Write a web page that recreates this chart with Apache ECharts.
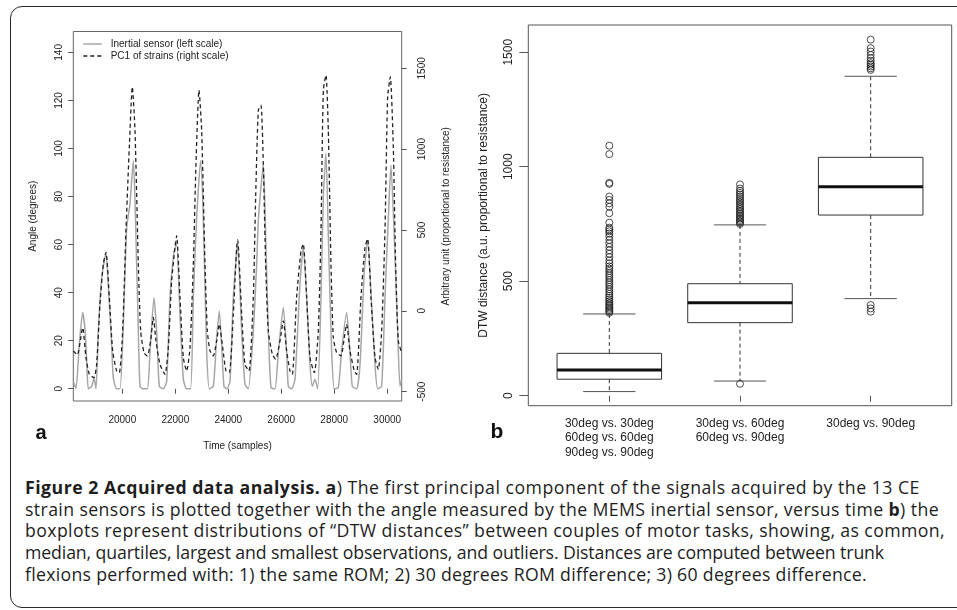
<!DOCTYPE html>
<html>
<head>
<meta charset="utf-8">
<script src="https://cdn.jsdelivr.net/npm/echarts@6/dist/echarts.min.js"></script>
<style>
  html, body { margin: 0; padding: 0; background: #fff; }
  body { width: 957px; height: 610px; position: relative; overflow: hidden; }
  .frame {
    position: absolute; left: 10px; top: 6px; width: 980px; height: 600px;
    border: 1.6px solid #2a2a2a; border-radius: 12px;
  }
  #chart { position: absolute; left: 0; top: 0; width: 957px; height: 470px; }
  .caption {
    position: absolute; left: 25px; top: 477px;
    font-family: "Open Sans", sans-serif; font-size: 17.7px; line-height: 21.7px;
    color: #1e1e1e; white-space: nowrap;
  }
  .caption span { display: inline-block; }
  .caption b { font-weight: 700; }
</style>
</head>
<body>
<div class="frame"></div>
<div id="chart"></div>
<div class="caption">
  <span><b>Figure 2 Acquired data analysis.</b> <b>a</b>) The first principal component of the signals acquired by the 13 CE</span><br>
  <span>strain sensors is plotted together with the angle measured by the MEMS inertial sensor, versus time <b>b</b>) the</span><br>
  <span>boxplots represent distributions of “DTW distances” between couples of motor tasks, showing, as common,</span><br>
  <span>median, quartiles, largest and smallest observations, and outliers. Distances are computed between trunk</span><br>
  <span>flexions performed with: 1) the same ROM; 2) 30 degrees ROM difference; 3) 60 degrees difference.</span>
</div>
<script>
// panel a: inertial sensor angle (left scale)
const inertialTime = [18152, 18252, 18378, 18504, 18592, 18655, 18718, 18844, 18932, 19007,
  19095, 19221, 19385, 19473, 19599, 19661, 19787, 19913, 20039, 20165,
  20290, 20416, 20479, 20605, 20668, 20768, 20945, 21045, 21196, 21297,
  21397, 21548, 21674, 21800, 21951, 22052, 22177, 22303, 22429, 22580,
  22681, 22806, 22957, 23058, 23184, 23284, 23435, 23561, 23662, 23750,
  23838, 23939, 24064, 24190, 24316, 24354, 24505, 24630, 24756, 24945,
  25071, 25134, 25234, 25322, 25410, 25511, 25612, 25763, 25889, 26077,
  26203, 26266, 26392, 26517, 26706, 26832, 26958, 27084, 27172, 27272,
  27373, 27499, 27587, 27687, 27775, 27901, 28002, 28153, 28279, 28467,
  28593, 28681, 28845, 28971, 29134, 29260, 29411, 29537, 29637, 29788,
  29914, 30040, 30140, 30266, 30392, 30480, 30543]
const inertialAngle = [3.2, 0, 18.5, 31.7, 25, 12, 0, 1, 4.5, 0,
  24, 46, 56.4, 43, 18, 4.5, 0, 0, 26.9, 67,
  77, 94.8, 79, 24, 1, 0, 0, 15, 38, 24,
  1, 0, 3, 38, 57, 60.3, 31, 4, 0, 0,
  38, 71, 95, 71, 16, 0, 1, 21, 32.4, 18,
  1, 0, 3, 38, 57, 60.3, 24, 1.8, 0, 24,
  52, 70, 84, 93.7, 64, 24, 0.5, 0, 15, 33.8,
  15, 1, 0, 4, 43.6, 58.9, 38, 10, 1, 4,
  0, 38, 80, 97.9, 64, 16, 0, 0.5, 16, 31.7,
  15, 1, 0, 10, 49, 61.7, 35, 10, 0, 1,
  38, 71, 93, 63, 24, 1, 4]

// panel a: PC1 of strains (right scale)
const pc1Time = [18152, 18303, 18504, 18630, 18756, 18932, 19032, 19158, 19284, 19385,
  19510, 19636, 19787, 19888, 20014, 20139, 20265, 20378, 20479, 20605,
  20693, 20819, 20945, 21070, 21171, 21272, 21423, 21611, 21737, 21863,
  21989, 22052, 22177, 22303, 22429, 22555, 22681, 22781, 22894, 22995,
  23121, 23209, 23310, 23435, 23561, 23662, 23788, 23914, 24039, 24190,
  24316, 24354, 24505, 24630, 24781, 24945, 25033, 25134, 25234, 25322,
  25410, 25511, 25662, 25788, 25951, 26077, 26203, 26329, 26417, 26580,
  26744, 26832, 26958, 27084, 27247, 27398, 27499, 27587, 27687, 27775,
  27876, 27964, 28090, 28253, 28379, 28467, 28593, 28757, 28845, 29008,
  29159, 29260, 29386, 29537, 29662, 29788, 29914, 30015, 30115, 30228,
  30316, 30417, 30543]
const pc1Value = [-248, -273, -104, -290, -393, -414, -331, 41, 290, 362,
  83, -248, -372, -383, -124, 496, 1013, 1385, 1117, 290,
  -124, -259, -279, -186, -41, -186, -331, -393, -227, 186,
  393, 465, 83, -290, -372, -227, 290, 910, 1365, 1117,
  290, -124, -248, -279, -186, -83, -227, -372, -383, -21,
  393, 438, -21, -331, -372, 83, 703, 1241, 1272, 910,
  290, -124, -269, -300, -186, -62, -248, -372, -393, 83,
  372, 414, 83, -290, -383, -124, 496, 1365, 1458, 1117,
  290, -165, -259, -279, -165, -83, -248, -372, -393, 83,
  393, 445, 83, -290, -362, -124, 496, 1323, 1447, 1013,
  290, -186, -259]

const timeTicks = [20000, 22000, 24000, 26000, 28000, 30000]
const angleTicks = [0, 20, 40, 60, 80, 100, 120, 140]
const pc1Ticks = [-500, 0, 500, 1000, 1500]
const legendNames = ['Inertial sensor (left scale)', 'PC1 of strains (right scale)']

// panel b: boxplots of DTW distances
const boxLabels = [
  '30deg vs. 30deg\n60deg vs. 60deg\n90deg vs. 90deg',
  '30deg vs. 60deg\n60deg vs. 90deg',
  '30deg vs. 90deg'
]
const boxLow = [18, 64, 424]
const boxQ1 = [72, 319, 789]
const boxMedian = [112, 406, 913]
const boxQ3 = [185, 489, 1041]
const boxHigh = [357, 746, 1395]
const outliers1 = [362, 368, 374, 380, 386, 392, 398, 405, 412, 420, 428, 436, 445, 455,
  465, 475, 485, 495, 505, 515, 525, 535, 545, 555, 565, 578, 590, 605, 620, 635,
  650, 665, 680, 695, 708, 718, 726, 734, 756, 797, 825, 840, 855, 870, 925, 930, 1055, 1092]
const outliers2 = [52, 750, 756, 762, 768, 774, 780, 787, 794, 801, 808, 815, 822, 830,
  838, 846, 854, 862, 870, 878, 886, 895, 905, 923]
const outliers3 = [367, 381, 396, 1423, 1430, 1438, 1445, 1452, 1462, 1474, 1488, 1503, 1518, 1555]
const dtwTicks = [0, 500, 1000, 1500]
const boxTicks = [1, 2, 3]

// caption line widths in the reference; the last line takes the mean spacing
const captionWidths = [895, 914, 920, 859, null]
const captionLines = Array.from(document.querySelectorAll('.caption span'))
const spacings = []
captionLines.forEach((el, i) => {
  const target = captionWidths[i]
  if (!target) return
  const extra = (target - el.getBoundingClientRect().width) / el.textContent.length
  spacings.push(extra)
  el.style.letterSpacing = extra.toFixed(3) + 'px'
})
const meanSpacing = spacings.reduce((a, b) => a + b, 0) / spacings.length
captionLines.forEach((el, i) => {
  if (!captionWidths[i]) el.style.letterSpacing = meanSpacing.toFixed(3) + 'px'
})

const chart = echarts.init(document.getElementById('chart'))
const font = '"Liberation Sans", Arial, sans-serif'
const plain = (v) => String(v)

const inertialData = inertialTime.map((t, i) => [t, inertialAngle[i]])
const pc1Data = pc1Time.map((t, i) => [t, pc1Value[i]])
const boxData = boxLow.map((v, i) => [i + 1, v, boxQ1[i], boxMedian[i], boxQ3[i], boxHigh[i]])
const outlierData = []
;[outliers1, outliers2, outliers3].forEach((list, i) => {
  list.forEach((v) => outlierData.push([i + 1, v]))
})

function renderBox(params, api) {
  const x = api.value(0)
  const low = api.coord([x, api.value(1)])
  const q1 = api.coord([x, api.value(2)])
  const med = api.coord([x, api.value(3)])
  const q3 = api.coord([x, api.value(4)])
  const high = api.coord([x, api.value(5)])
  const halfBox = api.size([0.8, 0])[0] / 2
  const halfCap = api.size([0.4, 0])[0] / 2
  const solid = { stroke: '#333', lineWidth: 1, fill: null }
  const dashed = { stroke: '#333', lineWidth: 1, lineDash: [4, 3] }
  const cap = { stroke: '#555', lineWidth: 1 }
  return {
    type: 'group',
    children: [
      { type: 'line', shape: { x1: high[0], y1: high[1], x2: q3[0], y2: q3[1] }, style: dashed },
      { type: 'line', shape: { x1: q1[0], y1: q1[1], x2: low[0], y2: low[1] }, style: dashed },
      { type: 'line', shape: { x1: high[0] - halfCap, y1: high[1], x2: high[0] + halfCap, y2: high[1] }, style: cap },
      { type: 'line', shape: { x1: low[0] - halfCap, y1: low[1], x2: low[0] + halfCap, y2: low[1] }, style: cap },
      { type: 'rect', shape: { x: q3[0] - halfBox, y: q3[1], width: halfBox * 2, height: q1[1] - q3[1] }, style: solid },
      { type: 'line', shape: { x1: med[0] - halfBox, y1: med[1], x2: med[0] + halfBox, y2: med[1] }, style: { stroke: '#111', lineWidth: 3 } }
    ]
  }
}

const option = {
  animation: false,
  textStyle: { fontFamily: font },
  grid: [
    { left: 73.3, top: 31.5, width: 328.4, height: 369.5, show: true, borderColor: '#666', borderWidth: 1 },
    { left: 528.3, top: 25, width: 423.4, height: 380.7, show: true, borderColor: '#555', borderWidth: 1 }
  ],
  xAxis: [
    {
      gridIndex: 0, type: 'value', min: 18151, max: 30545,
      axisLine: { show: false }, splitLine: { show: false },
      axisTick: { customValues: timeTicks, length: 5, lineStyle: { color: '#555' } },
      axisLabel: { customValues: timeTicks, fontSize: 10, color: '#222', margin: 14, formatter: plain, fontFamily: font },
      name: 'Time (samples)', nameLocation: 'middle', nameGap: 40,
      nameTextStyle: { fontSize: 10, color: '#222', fontFamily: font }
    },
    {
      gridIndex: 1, type: 'value', min: 0.38, max: 3.62,
      axisLine: { show: false }, splitLine: { show: false },
      axisTick: { customValues: boxTicks, length: 6, lineStyle: { color: '#555' } },
      axisLabel: {
        customValues: boxTicks, fontSize: 12, lineHeight: 14.3, color: '#222', margin: 11, fontFamily: font,
        formatter: (v) => boxLabels[Math.round(v) - 1]
      }
    }
  ],
  yAxis: [
    {
      gridIndex: 0, type: 'value', position: 'left', min: -5.1, max: 148.7,
      axisLine: { show: false }, splitLine: { show: false },
      axisTick: { customValues: angleTicks, length: 5, lineStyle: { color: '#555' } },
      axisLabel: { customValues: angleTicks, fontSize: 10, color: '#222', rotate: 90, margin: 9, formatter: plain, fontFamily: font },
      name: 'Angle (degrees)', nameLocation: 'middle', nameGap: 35, nameRotate: 90,
      nameTextStyle: { fontSize: 10, color: '#222', fontFamily: font }
    },
    {
      gridIndex: 0, type: 'value', position: 'right', min: -558, max: 1728,
      axisLine: { show: false }, splitLine: { show: false },
      axisTick: { customValues: pc1Ticks, length: 5, lineStyle: { color: '#555' } },
      axisLabel: { customValues: pc1Ticks, fontSize: 10, color: '#222', rotate: 90, margin: 16, formatter: plain, fontFamily: font },
      name: 'Arbitrary unit (proportional to resistance)', nameLocation: 'middle', nameGap: 40, nameRotate: 90,
      nameTextStyle: { fontSize: 10, color: '#222', fontFamily: font }
    },
    {
      gridIndex: 1, type: 'value', min: -43.7, max: 1619,
      axisLine: { show: false }, splitLine: { show: false },
      axisTick: { customValues: dtwTicks, length: 9, lineStyle: { color: '#555' } },
      axisLabel: { customValues: dtwTicks, fontSize: 12, color: '#222', rotate: 90, margin: 14, formatter: plain, fontFamily: font },
      name: 'DTW distance (a.u. proportional to resistance)', nameLocation: 'middle', nameGap: 39, nameRotate: 90,
      nameTextStyle: { fontSize: 12, color: '#222', fontFamily: font }
    }
  ],
  series: [
    {
      name: legendNames[0], type: 'line', xAxisIndex: 0, yAxisIndex: 0,
      data: inertialData, symbol: 'none', smooth: 0.2,
      lineStyle: { color: '#a6a6a6', width: 1.5 }, itemStyle: { color: '#a6a6a6' }
    },
    {
      name: legendNames[1], type: 'line', xAxisIndex: 0, yAxisIndex: 1,
      data: pc1Data, symbol: 'none', smooth: 0.2,
      lineStyle: { color: '#222', width: 1.3, type: [4, 3] }, itemStyle: { color: '#222' }
    },
    {
      type: 'custom', xAxisIndex: 1, yAxisIndex: 2, data: boxData, renderItem: renderBox
    },
    {
      type: 'scatter', xAxisIndex: 1, yAxisIndex: 2, data: outlierData,
      symbol: 'circle', symbolSize: 7,
      itemStyle: { color: 'rgba(0,0,0,0)', borderColor: '#222', borderWidth: 1 }
    }
  ],
  graphic: [
    // legend of panel a (R style, no box)
    { type: 'line', shape: { x1: 83.3, y1: 44, x2: 101.7, y2: 44 }, style: { stroke: '#a6a6a6', lineWidth: 1.5 } },
    { type: 'line', shape: { x1: 83.3, y1: 56, x2: 101.7, y2: 56 }, style: { stroke: '#222', lineWidth: 1.3, lineDash: [4, 3] } },
    { type: 'text', x: 110.7, y: 44, style: { text: legendNames[0], font: '10px ' + font, fill: '#222', verticalAlign: 'middle' } },
    { type: 'text', x: 110.7, y: 56, style: { text: legendNames[1], font: '10px ' + font, fill: '#222', verticalAlign: 'middle' } },
    // panel letters
    { type: 'text', x: 41, y: 433, style: { text: 'a', font: 'bold 20px ' + font, fill: '#111', align: 'center', verticalAlign: 'middle' } },
    { type: 'text', x: 497, y: 432, style: { text: 'b', font: 'bold 21px ' + font, fill: '#111', align: 'center', verticalAlign: 'middle' } }
  ]
}

chart.setOption(option)
</script>
</body>
</html>
